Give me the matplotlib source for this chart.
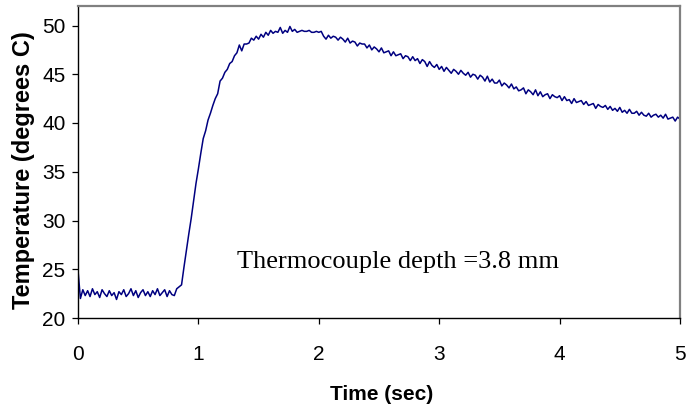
import numpy as np
import matplotlib
matplotlib.use("Agg")
import matplotlib.pyplot as plt

# Sample interval of the recording (s)
sample_step = 0.02

# Temperature readings (degrees C), one per sample, segment by segment
temp_0_080 = [24.9, 22.0, 22.9, 22.3, 22.8, 22.2, 23.0, 22.4, 22.7, 22.1, 22.9,
              22.5, 22.2, 22.8, 22.3, 22.6, 21.9, 22.7, 22.4, 22.9, 22.2,
              22.5, 23.0, 22.3, 22.8, 22.1, 22.6, 22.9, 22.3, 22.7, 22.2,
              22.8, 22.4, 23.0, 22.3, 22.6, 22.9, 22.2, 22.8, 22.4, 22.3]
temp_082_100 = [23.0, 23.2, 23.4, 25.2, 26.9, 28.6, 30.2, 32.0, 33.8, 35.3]
temp_102_140 = [36.9, 38.4, 39.2, 40.3, 41.0, 41.8, 42.5, 43.0, 44.3, 44.6,
                45.2, 45.5, 46.1, 46.3, 46.9, 47.2, 48.0, 47.4, 48.1, 48.1]
temp_142_200 = [48.2, 48.7, 48.5, 48.9, 48.6, 49.1, 48.8, 49.3, 49.0, 49.5,
                49.2, 49.4, 49.3, 49.8, 49.2, 49.5, 49.3, 49.9, 49.4, 49.6,
                49.3, 49.4, 49.5, 49.4, 49.4, 49.5, 49.3, 49.3, 49.4, 49.3]
temp_202_300 = [49.4, 48.9, 48.6, 49.0, 48.7, 48.9, 48.8, 48.5, 48.8, 48.6,
                48.3, 48.7, 48.2, 48.4, 48.3, 47.9, 48.2, 48.1, 48.1, 47.7,
                48.0, 47.5, 47.8, 47.6, 47.3, 47.7, 47.2, 47.3, 47.4, 46.9,
                47.3, 46.9, 47.0, 47.1, 46.6, 46.9, 46.8, 46.4, 46.8, 46.4,
                46.6, 46.1, 46.5, 46.3, 45.8, 46.3, 45.9, 45.7, 46.0, 45.5]
temp_302_400 = [45.8, 45.3, 45.7, 45.4, 45.1, 45.5, 45.3, 45.0, 45.4, 45.1,
                44.9, 45.2, 44.7, 45.0, 44.9, 44.5, 44.9, 44.7, 44.3, 44.8,
                44.2, 44.5, 44.1, 44.1, 44.4, 43.8, 44.1, 43.9, 43.6, 44.0,
                43.5, 43.7, 43.3, 43.4, 43.6, 43.0, 43.4, 43.2, 42.9, 43.4,
                42.8, 43.2, 42.7, 42.9, 43.0, 42.5, 42.9, 42.7, 42.6, 42.8]
temp_402_500 = [42.3, 42.7, 42.3, 42.4, 42.0, 42.5, 42.1, 42.2, 42.3, 41.9,
                42.2, 41.8, 41.9, 42.0, 41.5, 41.9, 41.7, 41.6, 41.8, 41.4,
                41.7, 41.3, 41.5, 41.2, 41.6, 41.1, 41.3, 41.0, 41.4, 41.0,
                41.0, 41.2, 40.8, 41.1, 40.8, 40.7, 41.0, 40.6, 40.8, 40.9,
                40.6, 40.8, 40.5, 40.9, 40.4, 40.5, 40.6, 40.2, 40.6, 40.4]

temperature = (temp_0_080 + temp_082_100 + temp_102_140 + temp_142_200
               + temp_202_300 + temp_302_400 + temp_402_500)
time_s = np.round(np.arange(len(temperature)) * sample_step, 2)

x_ticks = [0, 1, 2, 3, 4, 5]
y_ticks = [20, 25, 30, 35, 40, 45, 50]
annotation = "Thermocouple depth =3.8 mm"

fig = plt.figure(figsize=(6.89, 4.12), dpi=100)
ax = fig.add_axes([78/689, 1-318/412, (680-78)/689, (318-6)/412])

ax.plot(time_s, temperature, color="#000080", lw=1.1)

ax.set_xlim(0, 5)
ax.set_ylim(20, 52)
ax.set_xticks(x_ticks)
ax.set_yticks(y_ticks)

for lab in ax.get_xticklabels() + ax.get_yticklabels():
    lab.set_fontfamily("Liberation Sans")
    lab.set_fontsize(15)

ax.tick_params(axis="x", direction="out", length=4, width=0.9, pad=15.5, colors="black")
ax.tick_params(axis="y", direction="out", length=4, width=0.9, pad=5, colors="black")

ax.spines["left"].set_color("black")
ax.spines["bottom"].set_color("black")
ax.spines["left"].set_linewidth(1.0)
ax.spines["bottom"].set_linewidth(1.0)
ax.spines["top"].set_color("#808080")
ax.spines["right"].set_color("#808080")
ax.spines["top"].set_linewidth(1.6)
ax.spines["right"].set_linewidth(1.6)

fig.text(382/689, 1-395/412, "Time (sec)", fontsize=15, fontweight="bold",
         family="Liberation Sans", ha="center", va="center")
fig.text(24/689, 1-170/412, "Temperature (degrees C)", fontsize=17,
         fontweight="bold", family="Liberation Sans", rotation=90,
         ha="center", va="center")

ax.text(1.32, 25.1, annotation, family="Liberation Serif", fontsize=19,
        ha="left", va="baseline")

fig.savefig("out.png", dpi=100)
